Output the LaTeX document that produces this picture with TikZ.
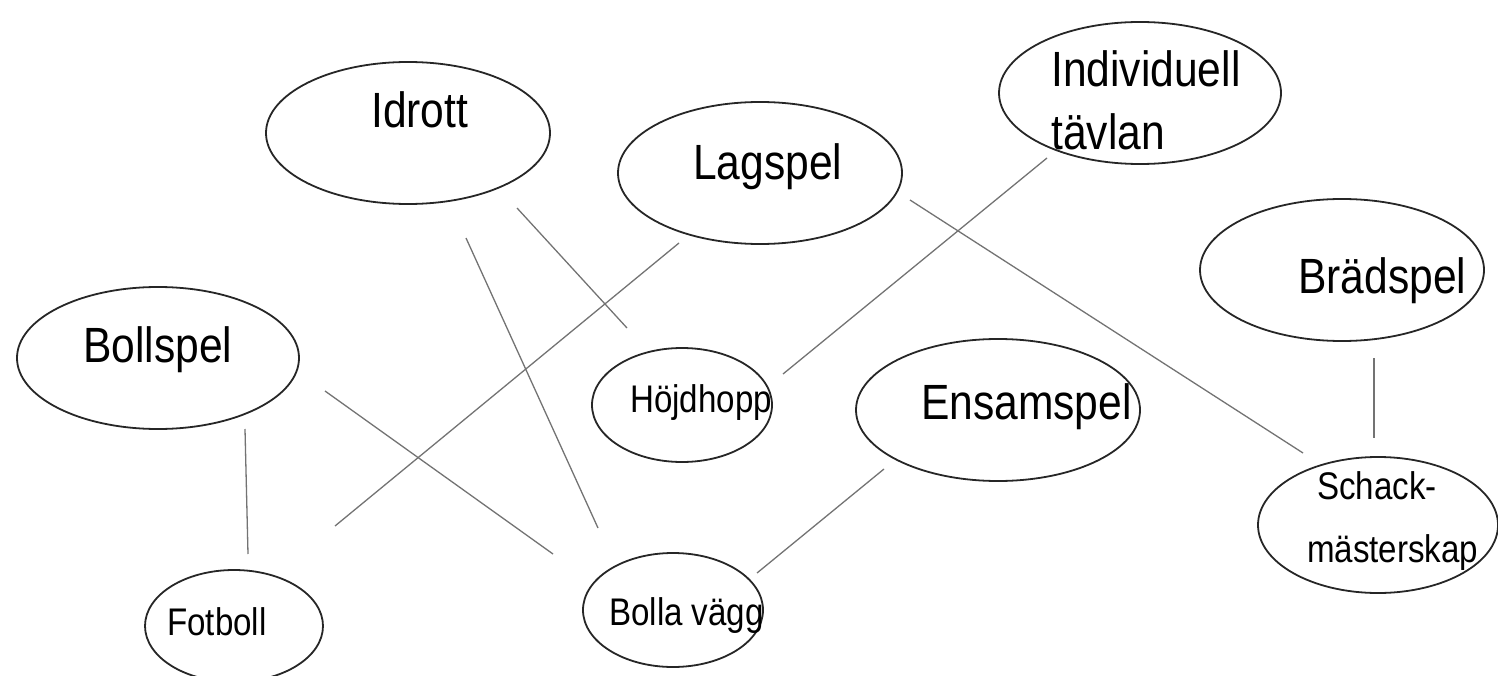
\documentclass[tikz,border=0pt]{standalone}
\usepackage{fontspec}
\setmainfont[FakeStretch=0.86]{Liberation Sans}
\usetikzlibrary{shapes.geometric}
\begin{document}
\begin{tikzpicture}[x=1pt,y=-1pt,
  oval/.style={draw=black!85,line width=1.8pt,ellipse,inner sep=0pt},
  big/.style={anchor=base west,inner sep=0pt,font=\fontsize{49.5}{58}\selectfont},
  small/.style={anchor=base west,inner sep=0pt,font=\fontsize{38.5}{46}\selectfont},
  link/.style={draw=black!55,line width=1.3pt}]
\useasboundingbox (0,0) rectangle (1498,676);
% ellipses
\node[oval,minimum width=284pt,minimum height=142pt] (idrott) at (408,133) {};
\node[oval,minimum width=284pt,minimum height=142pt] (lagspel) at (760,173) {};
\node[oval,minimum width=282pt,minimum height=142pt] (indiv) at (1140,93) {};
\node[oval,minimum width=284pt,minimum height=142pt] (brad) at (1342,270) {};
\node[oval,minimum width=282pt,minimum height=142pt] (bollspel) at (158,358) {};
\node[oval,minimum width=180pt,minimum height=114pt] (hojd) at (682,405) {};
\node[oval,minimum width=284pt,minimum height=142pt] (ensam) at (998,410) {};
\node[oval,minimum width=240pt,minimum height=136pt] (schack) at (1378,525) {};
\node[oval,minimum width=178pt,minimum height=112pt] (fotboll) at (234,626) {};
\node[oval,minimum width=180pt,minimum height=114pt] (bolla) at (673,610) {};
% texts
\node[big] (tidrott) at (371,128) {Idrott};
\node[big] (tlag) at (693,180) {Lagspel};
\node[big] (tind1) at (1051,87) {Individuell};
\node[big] (tind2) at (1051,150) {tävlan};
\node[big] (tbrad) at (1298,293) {Brädspel};
\node[big] (tboll) at (83,362) {Bollspel};
\node[small] (thojd) at (630,412) {Höjdhopp};
\node[big] (tensam) at (921,419) {Ensamspel};
\node[small] (tsch1) at (1317,499) {Schack-};
\node[small] (tsch2) at (1307,562) {mästerskap};
\node[small] (tfot) at (167,635) {Fotboll};
\node[small] (tbolla) at (609,625) {Bolla vägg};
% line end points
\coordinate (a1) at (245,429); \coordinate (a2) at (248,554);
\coordinate (b1) at (325,391); \coordinate (b2) at (553,554);
\coordinate (c1) at (679,243); \coordinate (c2) at (335,526);
\coordinate (d1) at (466,238); \coordinate (d2) at (598,528);
\coordinate (e1) at (517,208); \coordinate (e2) at (627,328);
\coordinate (f1) at (1047,158); \coordinate (f2) at (783,374);
\coordinate (g1) at (910,200); \coordinate (g2) at (1303,453);
\coordinate (h1) at (1374,358); \coordinate (h2) at (1374,438);
\coordinate (i1) at (884,469); \coordinate (i2) at (757,573);
\draw[link] (a1) -- (a2);
\draw[link] (b1) -- (b2);
\draw[link] (c1) -- (c2);
\draw[link] (d1) -- (d2);
\draw[link] (e1) -- (e2);
\draw[link] (f1) -- (f2);
\draw[link] (g1) -- (g2);
\draw[link] (h1) -- (h2);
\draw[link] (i1) -- (i2);
\end{tikzpicture}
\end{document}
